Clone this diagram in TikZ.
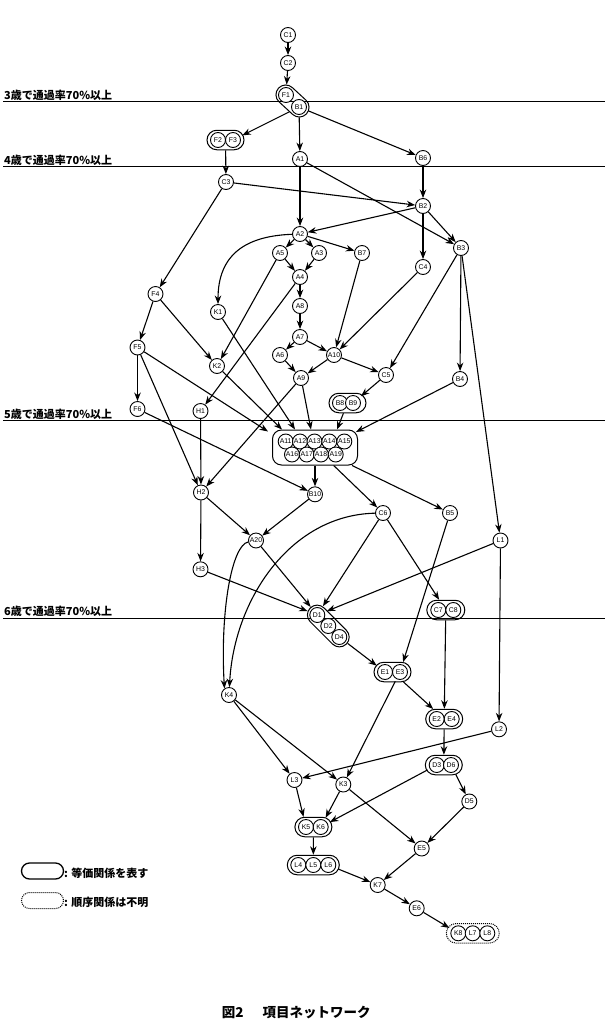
\documentclass[tikz,border=0pt]{standalone}
\usepackage{fontspec}
\setmainfont{Liberation Sans}
\newfontfamily\jp{Noto Sans CJK JP}
\usetikzlibrary{arrows.meta,shapes.misc}
\tikzset{
 nd/.style={circle, draw, line width=0.9pt, fill=white, inner sep=0pt, minimum size=15pt, font=\fontsize{6.9}{7}\selectfont},
 grp/.style={rounded rectangle, draw, line width=1pt, minimum height=19.5pt, inner sep=0pt},
 ar/.style={draw, line width=1.1pt, -{Stealth[length=8.5pt,width=6.5pt]}},
 tg/.style={shorten >=2.5pt},
 fg/.style={shorten <=2.5pt},
 lvl/.style={line width=0.9pt},
 lvltxt/.style={anchor=base west, inner sep=0pt, font=\jp\bfseries\fontsize{11}{12}\selectfont},
 jtxt/.style={anchor=west, inner sep=0pt, font=\jp\bfseries\fontsize{11}{12}\selectfont},
}
\begin{document}
\begin{tikzpicture}[x=1pt,y=-1pt]
\useasboundingbox (0,0) rectangle (605,1034);
% level lines
\draw[lvl] (3,101.7) -- (605,101.7);
\node[lvltxt] (t3) at (4,99.3) {3歳で通過率70\%以上};
\draw[lvl] (3,166.7) -- (605,166.7);
\node[lvltxt] (t4) at (4,164.3) {4歳で通過率70\%以上};
\draw[lvl] (3,420.7) -- (605,420.7);
\node[lvltxt] (t5) at (4,418.3) {5歳で通過率70\%以上};
\draw[lvl] (3,618.3) -- (605,618.3);
\node[lvltxt] (t6) at (4,615.9) {6歳で通過率70\%以上};
% groups
\node[grp, minimum width=38pt, rotate=-42.7] (gFB) at (292.5,101) {};
\node[grp, minimum width=37pt] (gF23) at (225.5,140) {};
\node[grp, minimum width=37pt] (gB89) at (347.5,403) {};
\node[draw, line width=1pt, rounded corners=9pt, minimum width=85pt, minimum height=35pt, inner sep=0pt] (gA) at (315,447.5) {};
\node[grp, minimum width=51pt, rotate=-45] (gD) at (328.3,626) {};
\node[grp, minimum width=38pt] (gC78) at (445.8,610) {};
\node[grp, minimum width=37pt] (gE13) at (392.5,672) {};
\node[grp, minimum width=37pt] (gE24) at (444.2,719) {};
\node[grp, minimum width=37pt] (gD36) at (443.8,765) {};
\node[grp, minimum width=37pt] (gK56) at (313.4,827) {};
\node[grp, minimum width=52pt] (gL456) at (313.3,865) {};
\node[grp, minimum width=53pt, densely dotted] (gKL) at (472.8,933.3) {};
% nodes
\node[nd] (C1) at (288,35) {C1};
\node[nd] (C2) at (288,63) {C2};
\node[nd] (F1) at (286,95) {F1};
\node[nd] (B1) at (299,107) {B1};
\node[nd] (F2) at (218,140) {F2};
\node[nd] (F3) at (233,140) {F3};
\node[nd] (A1) at (300,159) {A1};
\node[nd] (B6) at (423,158) {B6};
\node[nd] (C3) at (226,182) {C3};
\node[nd] (B2) at (423,206) {B2};
\node[nd] (A2) at (300,234) {A2};
\node[nd] (B3) at (461,248) {B3};
\node[nd] (A5) at (280,253) {A5};
\node[nd] (A3) at (319,253) {A3};
\node[nd] (B7) at (362,253) {B7};
\node[nd] (C4) at (423,267) {C4};
\node[nd] (A4) at (300,277) {A4};
\node[nd] (F4) at (155.5,294) {F4};
\node[nd] (K1) at (218,312) {K1};
\node[nd] (A8) at (300,306) {A8};
\node[nd] (A7) at (300,337) {A7};
\node[nd] (F5) at (137.5,347.5) {F5};
\node[nd] (A6) at (280,355) {A6};
\node[nd] (A10) at (334,355) {A10};
\node[nd] (K2) at (217,366) {K2};
\node[nd] (C5) at (386,375) {C5};
\node[nd] (A9) at (301,378) {A9};
\node[nd] (B4) at (460,379) {B4};
\node[nd] (B8) at (340,403) {B8};
\node[nd] (B9) at (353,403) {B9};
\node[nd] (F6) at (137.5,409) {F6};
\node[nd] (H1) at (200.5,411) {H1};
\node[nd] (A11) at (285.7,441.5) {A11};
\node[nd] (A12) at (300,441.5) {A12};
\node[nd] (A13) at (314.5,441.5) {A13};
\node[nd] (A14) at (329.3,441.5) {A14};
\node[nd] (A15) at (344.3,441.5) {A15};
\node[nd] (A16) at (292,454.5) {A16};
\node[nd] (A17) at (306.7,454.5) {A17};
\node[nd] (A18) at (321,454.5) {A18};
\node[nd] (A19) at (335.7,454.5) {A19};
\node[nd] (H2) at (201,492.5) {H2};
\node[nd] (B10) at (315,494.3) {B10};
\node[nd] (C6) at (383,513) {C6};
\node[nd] (B5) at (450,513) {B5};
\node[nd] (A20) at (256,540.5) {A20};
\node[nd] (L1) at (500.5,540.5) {L1};
\node[nd] (H3) at (200.5,569.3) {H3};
\node[nd] (D1) at (317.3,615) {D1};
\node[nd] (D2) at (328.3,626) {D2};
\node[nd] (D4) at (339.3,637) {D4};
\node[nd] (C7) at (438.3,610) {C7};
\node[nd] (C8) at (453.3,610) {C8};
\node[nd] (E1) at (385,672) {E1};
\node[nd] (E3) at (400,672) {E3};
\node[nd] (K4) at (229,695) {K4};
\node[nd] (E2) at (436.7,719) {E2};
\node[nd] (E4) at (451.7,719) {E4};
\node[nd] (L2) at (499,729.3) {L2};
\node[nd] (D3) at (436.7,765) {D3};
\node[nd] (D6) at (451,765) {D6};
\node[nd] (L3) at (294.5,780) {L3};
\node[nd] (K3) at (343.3,784.5) {K3};
\node[nd] (D5) at (469.3,801.5) {D5};
\node[nd] (K5) at (306,827) {K5};
\node[nd] (K6) at (320.7,827) {K6};
\node[nd] (E5) at (421.7,848.5) {E5};
\node[nd] (L4) at (298.3,865) {L4};
\node[nd] (L5) at (313.3,865) {L5};
\node[nd] (L6) at (328.3,865) {L6};
\node[nd] (K7) at (377.7,885) {K7};
\node[nd] (E6) at (416.7,908.3) {E6};
\node[nd] (K8) at (458.3,933.3) {K8};
\node[nd] (L7) at (472.7,933.3) {L7};
\node[nd] (L8) at (487.3,933.3) {L8};
% entry points on the A11-A19 group
\coordinate (gAi1) at (268,431.5);
\coordinate (gAi2) at (282,429.5);
\coordinate (gAi3) at (295,429.5);
\coordinate (gAi4) at (311,429.5);
\coordinate (gAi5) at (337,429.5);
\coordinate (gAi6) at (356,432);
% edges
\draw[ar] (C1) -- (C2);
\draw[ar,tg] (C2) -- (F1);
\draw[ar,fg,tg] (B1) -- (F3);
\draw[ar,fg] (B1) -- (A1);
\draw[ar,fg] (B1) -- (B6);
\draw[ar] (gF23) -- (C3);
\draw[ar] (A1) -- (A2);
\draw[ar] (A1) -- (B3);
\draw[ar] (B6) -- (B2);
\draw[ar] (C3) -- (B2);
\draw[ar] (B2) -- (A2);
\draw[ar] (B2) -- (B3);
\draw[ar] (B2) -- (C4);
\draw[ar] (C3) -- (F4);
\draw[ar] (A2) -- (A5);
\draw[ar] (A2) -- (A3);
\draw[ar] (A2) -- (B7);
\draw[ar] (A2) .. controls (245,236) and (218,255) .. (K1);
\draw[ar] (A5) -- (A4);
\draw[ar] (A3) -- (A4);
\draw[ar] (A4) -- (A8);
\draw[ar] (A5) -- (K2);
\draw[ar] (A4) -- (H1);
\draw[ar] (B7) -- (A10);
\draw[ar] (C4) -- (A10);
\draw[ar] (B3) -- (C5);
\draw[ar] (B3) -- (B4);
\draw[ar] (B3) -- (L1);
\draw[ar] (F4) -- (F5);
\draw[ar] (F4) -- (K2);
\draw[ar] (A8) -- (A7);
\draw[ar] (A7) -- (A6);
\draw[ar] (A7) -- (A10);
\draw[ar] (A6) -- (A9);
\draw[ar] (A10) -- (A9);
\draw[ar] (A10) -- (C5);
\draw[ar,tg] (C5) -- (B9);
\draw[ar] (F5) -- (gAi1);
\draw[ar] (K2) -- (gAi2);
\draw[ar] (K1) -- (gAi3);
\draw[ar] (A9) -- (gAi4);
\draw[ar] (gB89) -- (gAi5);
\draw[ar] (B4) -- (gAi6);
\draw[ar] (A9) -- (H2);
\draw[ar] (F5) -- (H2);
\draw[ar] (H1) -- (H2);
\draw[ar] (F5) -- (F6);
\draw[ar] (F6) -- (B10);
\draw[ar] (gA) -- (B10);
\draw[ar] (gA) -- (C6);
\draw[ar] (gA) -- (B5);
\draw[ar] (H2) -- (A20);
\draw[ar] (B10) -- (A20);
\draw[ar] (H2) -- (H3);
\draw[ar] (L1) -- (L2);
\draw[ar,tg] (L1) -- (D1);
\draw[ar,tg] (C6) -- (D1);
\draw[ar,tg] (A20) -- (D1);
\draw[ar,tg] (H3) -- (D1);
\draw[ar] (C6) -- (gC78);
\draw[ar] (C6) .. controls (290,515) and (234,600) .. (K4);
\draw[ar] (A20) .. controls (232,545) and (220,610) .. (K4.125);
\draw[ar,tg] (B5) -- (E3);
\draw[ar,fg,tg] (D4) -- (E1);
\draw[ar] (gC78) -- (gE24);
\draw[ar] (gE13) -- (gE24);
\draw[ar,fg] (E3) -- (K3);
\draw[ar] (K4) -- (L3);
\draw[ar] (K4) -- (K3);
\draw[ar] (L2) -- (L3);
\draw[ar] (gE24) -- (gD36);
\draw[ar,fg] (D6) -- (D5);
\draw[ar,fg,tg] (D3) -- (K6);
\draw[ar,tg] (L3) -- (K5);
\draw[ar,tg] (K3) -- (K6);
\draw[ar] (K3) -- (E5);
\draw[ar] (D5) -- (E5);
\draw[ar] (gK56) -- (gL456);
\draw[ar,fg] (L6) -- (K7);
\draw[ar] (E5) -- (K7);
\draw[ar] (K7) -- (E6);
\draw[ar,tg] (E6) -- (K8);
% legend
\node[grp, minimum width=42pt, minimum height=16pt, line width=1.3pt] (lg1) at (42.5,871) {};
\node[jtxt] (lt1) at (64,873) {: 等価関係を表す};
\node[grp, minimum width=42pt, minimum height=16pt, densely dotted] (lg2) at (42.5,900.5) {};
\node[jtxt] (lt2) at (64,902.5) {: 順序関係は不明};
% caption
\node[anchor=west, inner sep=0pt, font=\jp\bfseries\fontsize{13.5}{14}\selectfont] (cap) at (221.7,1013) {図2\hspace{19pt}項目ネットワーク};
\end{tikzpicture}
\end{document}
